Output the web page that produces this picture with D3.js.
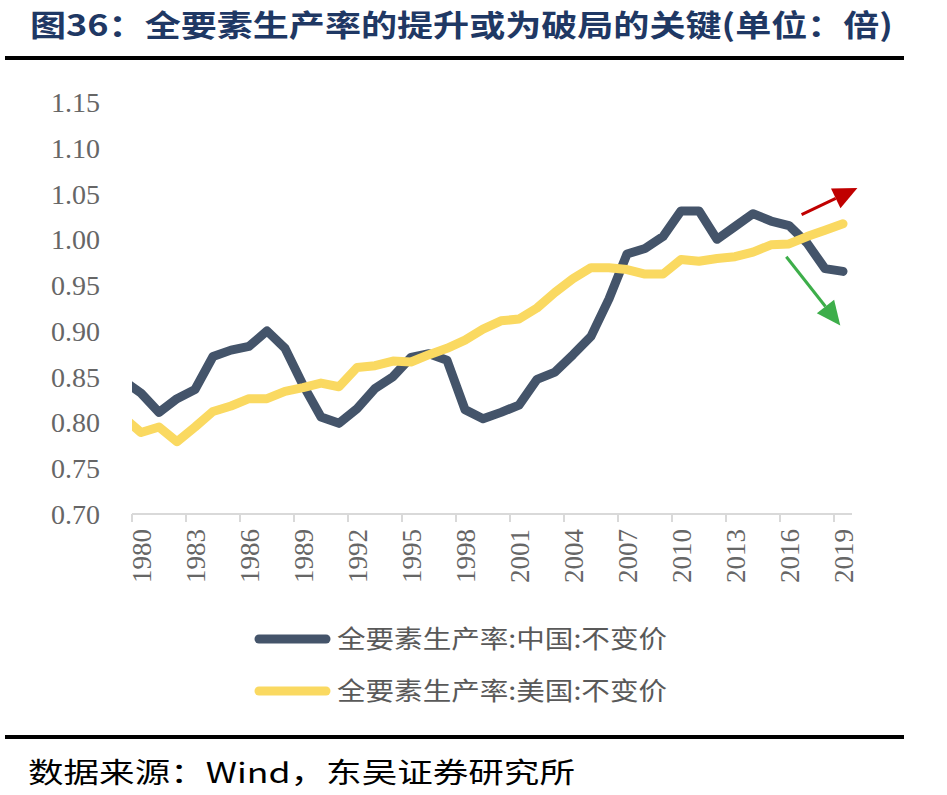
<!DOCTYPE html>
<html>
<head>
<meta charset="utf-8">
<script src="https://cdn.jsdelivr.net/npm/d3@7"></script>
<style>
  html, body { margin: 0; padding: 0; background: #ffffff; }
  svg { display: block; }
</style>
</head>
<body>
<svg id="chart" width="947" height="795"></svg>
<script>
// ---- data ----
const titleText = "图36：全要素生产率的提升或为破局的关键(单位：倍)";
const sourceText = "数据来源：Wind，东吴证券研究所";
const years = d3.range(1979, 2020);
const chinaTFP = [0.846, 0.832, 0.811, 0.826, 0.836, 0.872, 0.879, 0.883, 0.900, 0.881,
                  0.841, 0.806, 0.799, 0.815, 0.837, 0.850, 0.871, 0.875, 0.868, 0.814,
                  0.804, 0.811, 0.819, 0.847, 0.855, 0.874, 0.894, 0.935, 0.984, 0.990,
                  1.003, 1.031, 1.031, 1.000, 1.014, 1.028, 1.020, 1.015, 0.996, 0.968, 0.965];
const usTFP    = [0.806, 0.789, 0.795, 0.779, 0.795, 0.812, 0.818, 0.826, 0.826, 0.834,
                  0.838, 0.843, 0.839, 0.860, 0.862, 0.867, 0.866, 0.874, 0.881, 0.890,
                  0.902, 0.911, 0.913, 0.925, 0.942, 0.957, 0.969, 0.969, 0.967, 0.962,
                  0.962, 0.978, 0.976, 0.979, 0.981, 0.986, 0.994, 0.995, 1.003, 1.010, 1.017];
const seriesNames = ["全要素生产率:中国:不变价", "全要素生产率:美国:不变价"];
const seriesColors = ["#44546A", "#FAD961"];
const yTicks = [0.70, 0.75, 0.80, 0.85, 0.90, 0.95, 1.00, 1.05, 1.10, 1.15];
const xTickYears = d3.range(1980, 2020, 3);
// annotation arrows in data coordinates [year, value]
const redArrow = [[2016.7, 1.027], [2019.8, 1.056]];
const greenArrow = [[2015.85, 0.981], [2018.85, 0.906]];

// ---- layout ----
const svg = d3.select("#chart");
const plotLeft = 132, plotRight = 852, yTop = 102, yBottom = 514;

const x = d3.scaleLinear().domain([1979.5, 2019.5]).range([plotLeft, plotRight]);
const y = d3.scaleLinear().domain([0.70, 1.15]).range([yBottom, yTop]);

// title
svg.append("text")
  .attr("x", 30).attr("y", 36)
  .attr("font-family", "'Noto Sans CJK SC', sans-serif")
  .attr("font-weight", "bold")
  .attr("font-size", 30)
  .attr("fill", "#1F3864")
  .attr("textLength", 863)
  .attr("lengthAdjust", "spacingAndGlyphs")
  .text(titleText);

// rules
svg.append("rect").attr("x", 5).attr("y", 56).attr("width", 899).attr("height", 4).attr("fill", "#000");
svg.append("rect").attr("x", 5).attr("y", 735).attr("width", 899).attr("height", 4).attr("fill", "#000");

// source
svg.append("text")
  .attr("x", 28).attr("y", 783)
  .attr("font-family", "'Noto Sans CJK SC', 'Liberation Serif', serif")
  .attr("font-size", 28)
  .attr("fill", "#000")
  .attr("textLength", 547)
  .attr("lengthAdjust", "spacingAndGlyphs")
  .text(sourceText);

// y axis labels
const yAxis = d3.axisLeft(y).tickValues(yTicks).tickFormat(d3.format(".2f")).tickSize(0).tickPadding(0);
const yg = svg.append("g").attr("transform", `translate(${100},0)`).call(yAxis);
yg.select(".domain").remove();
yg.selectAll("text")
  .attr("font-family", "'Liberation Serif', 'DejaVu Serif', serif")
  .attr("font-size", 28)
  .attr("fill", "#666666")
  .attr("dy", "0.34em");

// x axis
const xg = svg.append("g").attr("transform", `translate(0,${yBottom})`);
xg.append("line").attr("x1", plotLeft).attr("x2", plotRight).attr("y1", 0).attr("y2", 0)
  .attr("stroke", "#D9D9D9").attr("stroke-width", 2);
xg.selectAll("line.tick").data(xTickYears).enter().append("line")
  .attr("class", "tick")
  .attr("x1", d => x(d - 0.5)).attr("x2", d => x(d - 0.5))
  .attr("y1", 0).attr("y2", 8)
  .attr("stroke", "#D9D9D9").attr("stroke-width", 2);
xg.selectAll("text").data(xTickYears).enter().append("text")
  .attr("transform", d => `translate(${x(d) + 1},${15}) rotate(-90)`)
  .attr("text-anchor", "end")
  .attr("dy", "0.35em")
  .attr("font-family", "'Liberation Serif', 'DejaVu Serif', serif")
  .attr("font-size", 27)
  .attr("fill", "#666666")
  .text(d => d);

// clip
svg.append("defs").append("clipPath").attr("id", "plotclip")
  .append("rect").attr("x", plotLeft).attr("y", 0).attr("width", 815 - plotLeft + 100).attr("height", 795);

const line = d3.line().x(d => x(d[0])).y(d => y(d[1]));
const plot = svg.append("g").attr("clip-path", "url(#plotclip)");
[chinaTFP, usTFP].forEach((vals, i) => {
  plot.append("path")
    .datum(years.map((yr, j) => [yr, vals[j]]))
    .attr("d", line)
    .attr("fill", "none")
    .attr("stroke", seriesColors[i])
    .attr("stroke-width", 9)
    .attr("stroke-linejoin", "round")
    .attr("stroke-linecap", "round");
});

// arrows
function drawArrow(pts, color) {
  const [x0, y0] = [x(pts[0][0]), y(pts[0][1])];
  const [x1, y1] = [x(pts[1][0]), y(pts[1][1])];
  const ang = Math.atan2(y1 - y0, x1 - x0);
  const headLen = 24, headHalf = 11;
  const bx = x1 - headLen * Math.cos(ang), by = y1 - headLen * Math.sin(ang);
  svg.append("line").attr("x1", x0).attr("y1", y0).attr("x2", bx).attr("y2", by)
    .attr("stroke", color).attr("stroke-width", 3);
  const px = -Math.sin(ang), py = Math.cos(ang);
  svg.append("polygon")
    .attr("points", [[x1, y1], [bx + px * headHalf, by + py * headHalf], [bx - px * headHalf, by - py * headHalf]]
      .map(p => p.join(",")).join(" "))
    .attr("fill", color);
}
drawArrow(redArrow, "#C00000");
drawArrow(greenArrow, "#3DAE4A");

// legend
const legend = svg.append("g");
seriesNames.forEach((name, i) => {
  const ly = 639 + i * 52;
  legend.append("line").attr("x1", 259).attr("x2", 326).attr("y1", ly).attr("y2", ly)
    .attr("stroke", seriesColors[i]).attr("stroke-width", 9).attr("stroke-linecap", "round");
  legend.append("text")
    .attr("x", 337).attr("y", ly)
    .attr("dy", "0.36em")
    .attr("font-family", "'Noto Sans CJK SC', sans-serif")
    .attr("font-size", 25)
    .attr("fill", "#595959")
    .attr("textLength", 330)
    .attr("lengthAdjust", "spacingAndGlyphs")
    .text(name);
});
</script>
</body>
</html>
